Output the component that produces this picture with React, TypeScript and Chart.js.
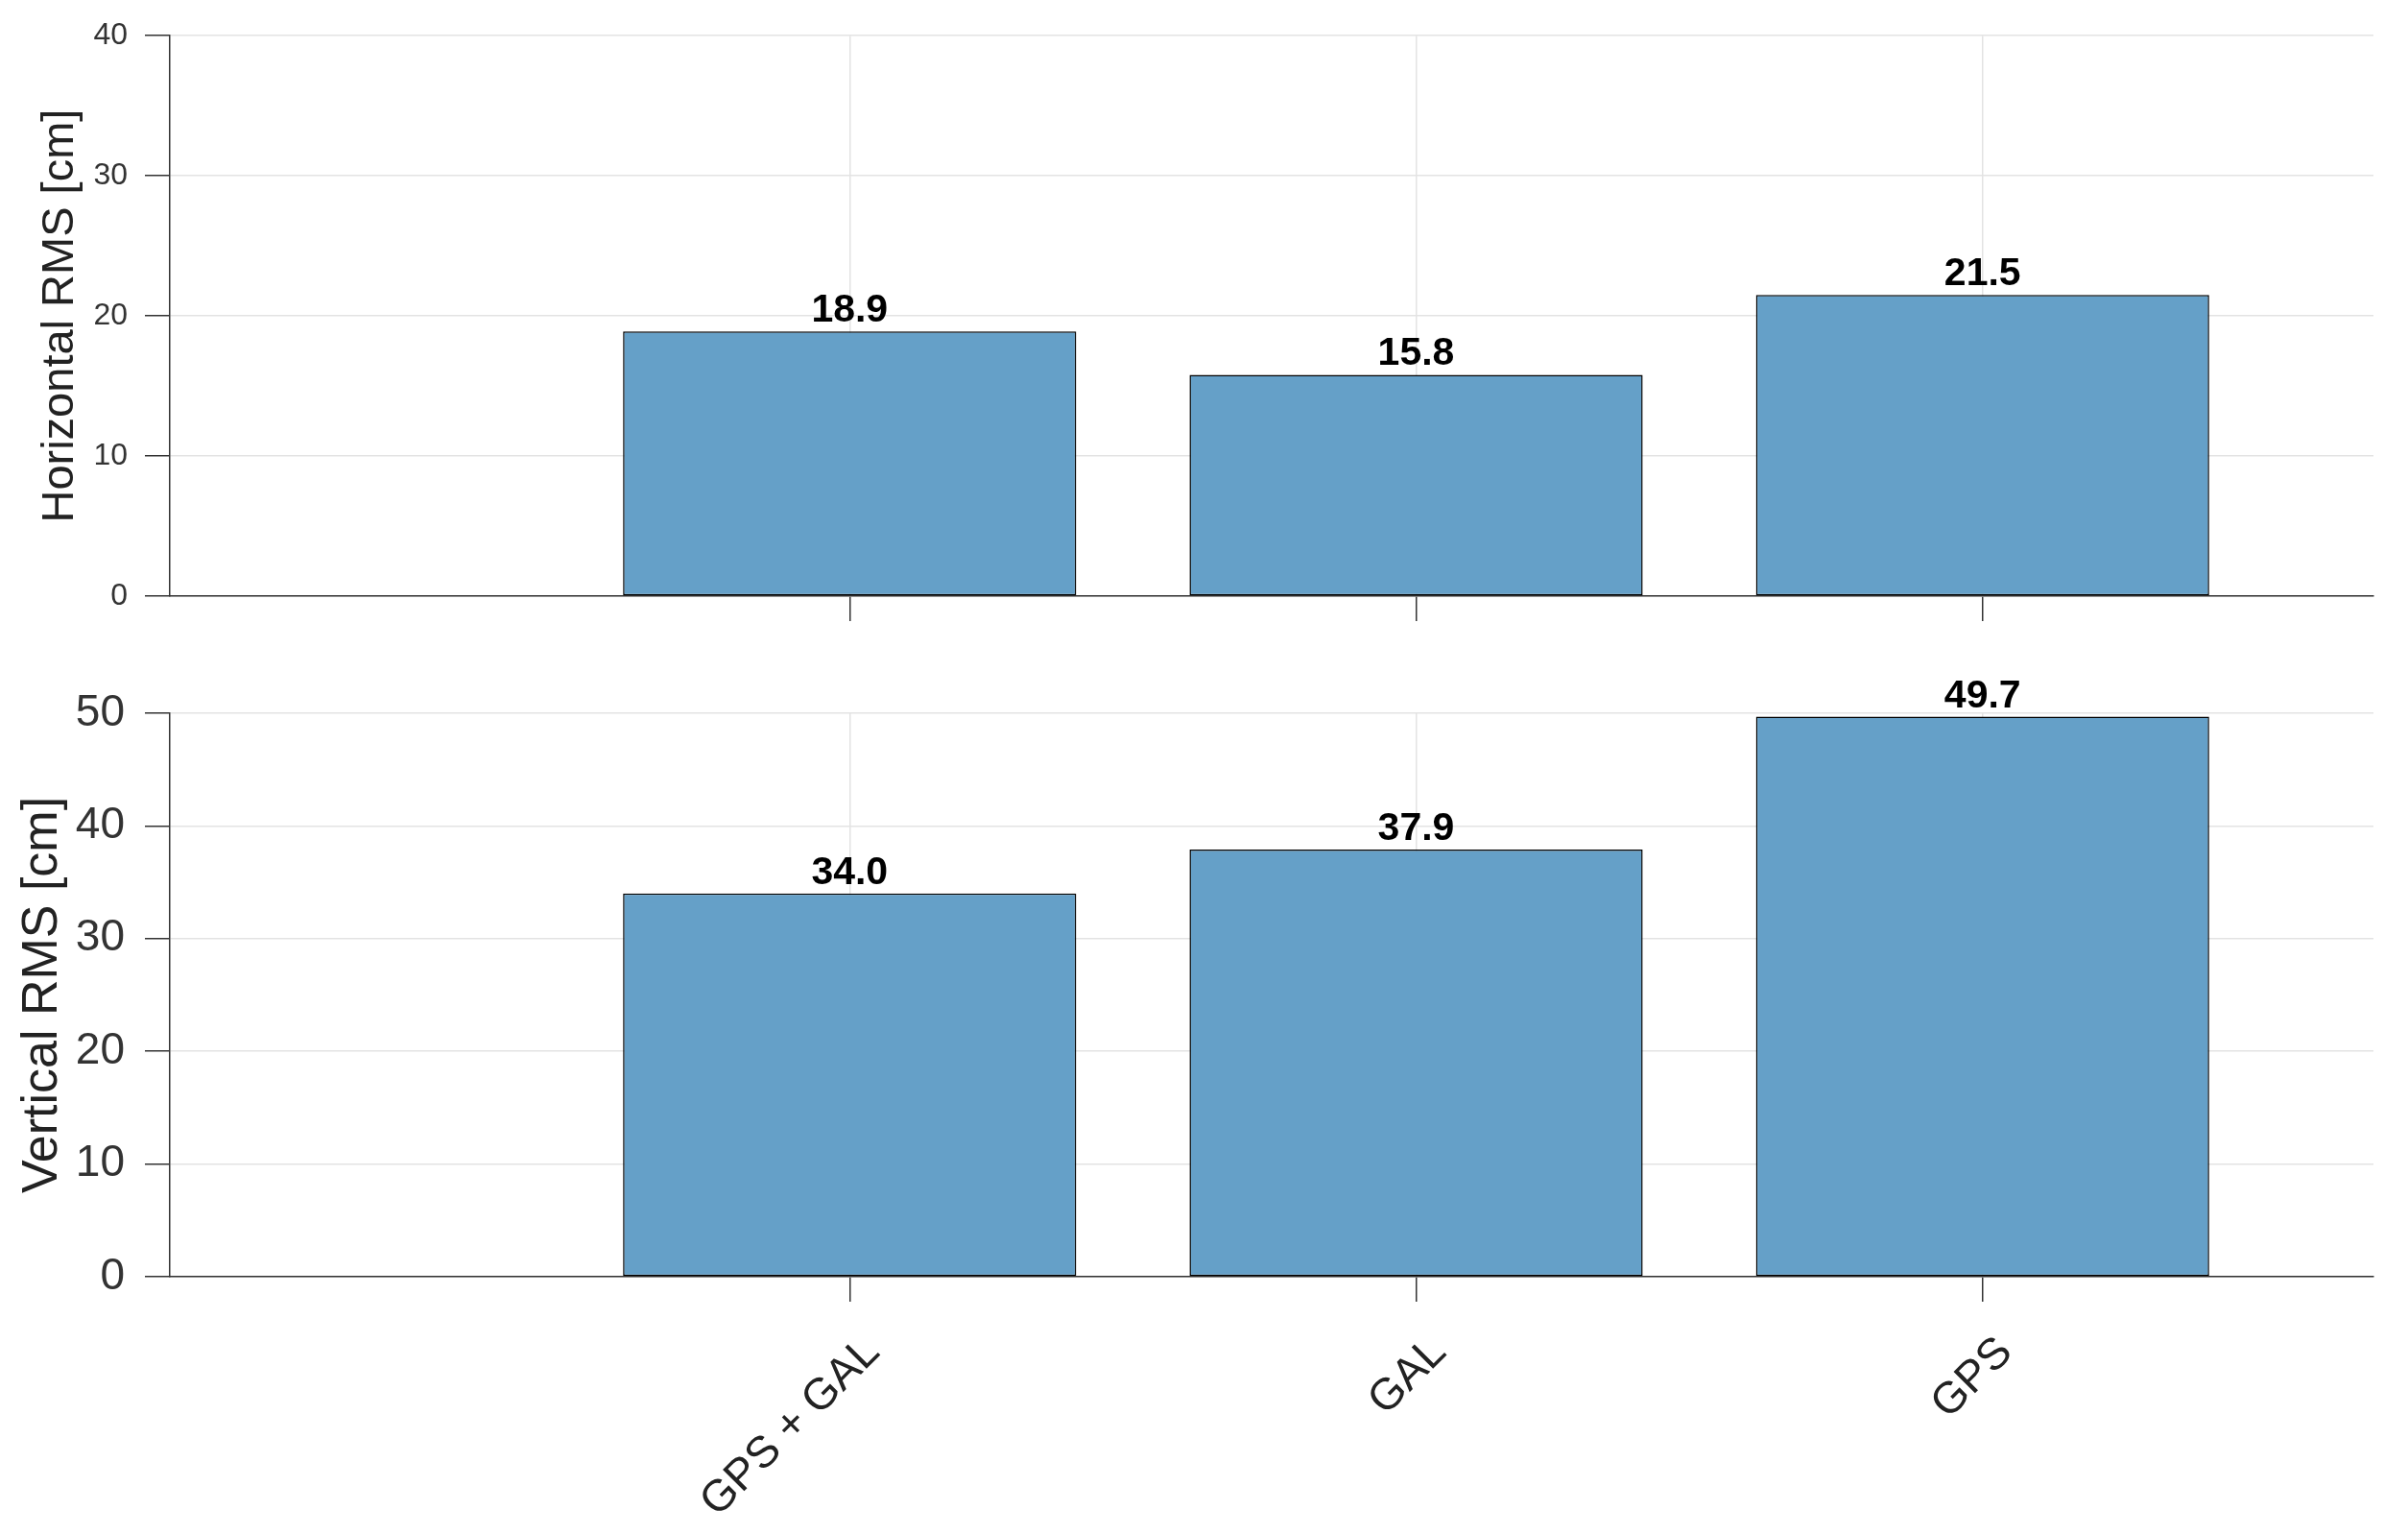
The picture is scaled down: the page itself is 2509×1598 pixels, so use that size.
import React, { useEffect, useRef } from "react";
import { Chart, registerables } from "chart.js";

Chart.register(...registerables);

// ---- data ----
const categories = ["GPS + GAL", "GAL", "GPS"];
const categoryPositions = [0, 1, 2];
const horizontalRms = [18.9, 15.8, 21.5];
const verticalRms = [34.0, 37.9, 49.7];
const horizontalTicks = [0, 10, 20, 30, 40];
const verticalTicks = [0, 10, 20, 30, 40, 50];
const xLimits = [-1.2, 2.69];

// ---- styling ----
const W = 2509;
const H = 1598;
const FONT = "'Liberation Sans', Arial, Helvetica, sans-serif";
const BAR_FILL = "#65a0c8";
const GRID = "#e3e3e3";
const AXIS = "#333333";

const valueLabels = {
  id: "valueLabels",
  afterDatasetsDraw(chart: any) {
    const ctx = chart.ctx;
    const meta = chart.getDatasetMeta(0);
    const data = chart.data.datasets[0].data as any[];
    ctx.save();
    ctx.font = `bold 41px ${FONT}`;
    ctx.fillStyle = "#000";
    ctx.textAlign = "center";
    ctx.textBaseline = "alphabetic";
    meta.data.forEach((el: any, i: number) => {
      ctx.fillText(Number(data[i].y).toFixed(1), el.x, el.y - 10);
    });
    ctx.restore();
  },
};

function buildConfig(
  values: number[],
  yTicks: number[],
  title: string,
  p: {
    padTop: number;
    xHeight: number;
    showX: boolean;
    tickSize: number;
    tickPad: number;
    titleSize: number;
    titlePad: number;
  }
): any {
  return {
    type: "bar",
    data: {
      datasets: [
        {
          data: values.map((v, i) => ({ x: categoryPositions[i], y: v })),
          backgroundColor: BAR_FILL,
          borderColor: "#000",
          borderWidth: 1.5,
          borderSkipped: false,
          categoryPercentage: 1,
          barPercentage: 0.8,
        },
      ],
    },
    options: {
      responsive: false,
      animation: false,
      devicePixelRatio: 1,
      layout: { padding: { top: p.padTop, right: 36, left: 0, bottom: 0 } },
      plugins: { legend: { display: false }, tooltip: { enabled: false } },
      scales: {
        x: {
          type: "linear",
          min: xLimits[0],
          max: xLimits[1],
          offset: false,
          afterBuildTicks: (s: any) => {
            s.ticks = categoryPositions.map((v) => ({ value: v }));
          },
          afterFit: (s: any) => {
            s.height = p.xHeight;
            s.paddingLeft = 0;
            s.paddingRight = 0;
          },
          grid: {
            offset: false,
            color: GRID,
            lineWidth: 1.5,
            tickLength: 26,
            tickColor: AXIS,
            tickWidth: 1.5,
          },
          border: { color: AXIS, width: 1.5 },
          ticks: {
            display: p.showX,
            autoSkip: false,
            maxRotation: 45,
            minRotation: 45,
            padding: 26,
            labelOffset: 24,
            color: "#222",
            font: { family: FONT, size: 46 },
            callback: (v: number) => {
              const idx = categoryPositions.indexOf(v);
              return idx >= 0 ? categories[idx] : "";
            },
          },
        },
        y: {
          min: yTicks[0],
          max: yTicks[yTicks.length - 1],
          afterBuildTicks: (s: any) => {
            s.ticks = yTicks.map((v) => ({ value: v }));
          },
          afterFit: (s: any) => {
            s.width = 177;
          },
          grid: {
            color: GRID,
            lineWidth: 1.5,
            tickLength: 26,
            tickColor: AXIS,
            tickWidth: 1.5,
          },
          border: { color: AXIS, width: 1.5 },
          ticks: {
            padding: p.tickPad,
            color: "#333",
            font: { family: FONT, size: p.tickSize },
            callback: (v: number) => String(v),
          },
          title: {
            display: true,
            text: title,
            color: "#222",
            font: { family: FONT, size: p.titleSize },
            padding: { top: p.titlePad, bottom: 0 },
          },
        },
      },
    },
    plugins: [valueLabels],
  };
}

export default function App() {
  const topRef = useRef<HTMLCanvasElement | null>(null);
  const bottomRef = useRef<HTMLCanvasElement | null>(null);

  useEffect(() => {
    document.body.style.margin = "0";
    document.body.style.overflow = "hidden";
    const top = new Chart(
      topRef.current as HTMLCanvasElement,
      buildConfig(horizontalRms, horizontalTicks, "Horizontal RMS [cm]", {
        padTop: 33,
        xHeight: 39,
        showX: false,
        tickSize: 32,
        tickPad: 18,
        titleSize: 47,
        titlePad: 35,
      })
    );
    const bottom = new Chart(
      bottomRef.current as HTMLCanvasElement,
      buildConfig(verticalRms, verticalTicks, "Vertical RMS [cm]", {
        padTop: 83,
        xHeight: 268,
        showX: true,
        tickSize: 46,
        tickPad: 21,
        titleSize: 52,
        titlePad: 13,
      })
    );
    return () => {
      top.destroy();
      bottom.destroy();
    };
  }, []);

  return (
    <div
      style={{
        position: "absolute",
        left: 0,
        top: 0,
        width: W,
        height: H,
        overflow: "hidden",
        background: "#fff",
      }}
    >
      <canvas
        ref={topRef}
        width={W}
        height={660}
        style={{ position: "absolute", left: 0, top: 0, width: W, height: 660 }}
      />
      <canvas
        ref={bottomRef}
        width={W}
        height={938}
        style={{ position: "absolute", left: 0, top: 660, width: W, height: 938 }}
      />
    </div>
  );
}
